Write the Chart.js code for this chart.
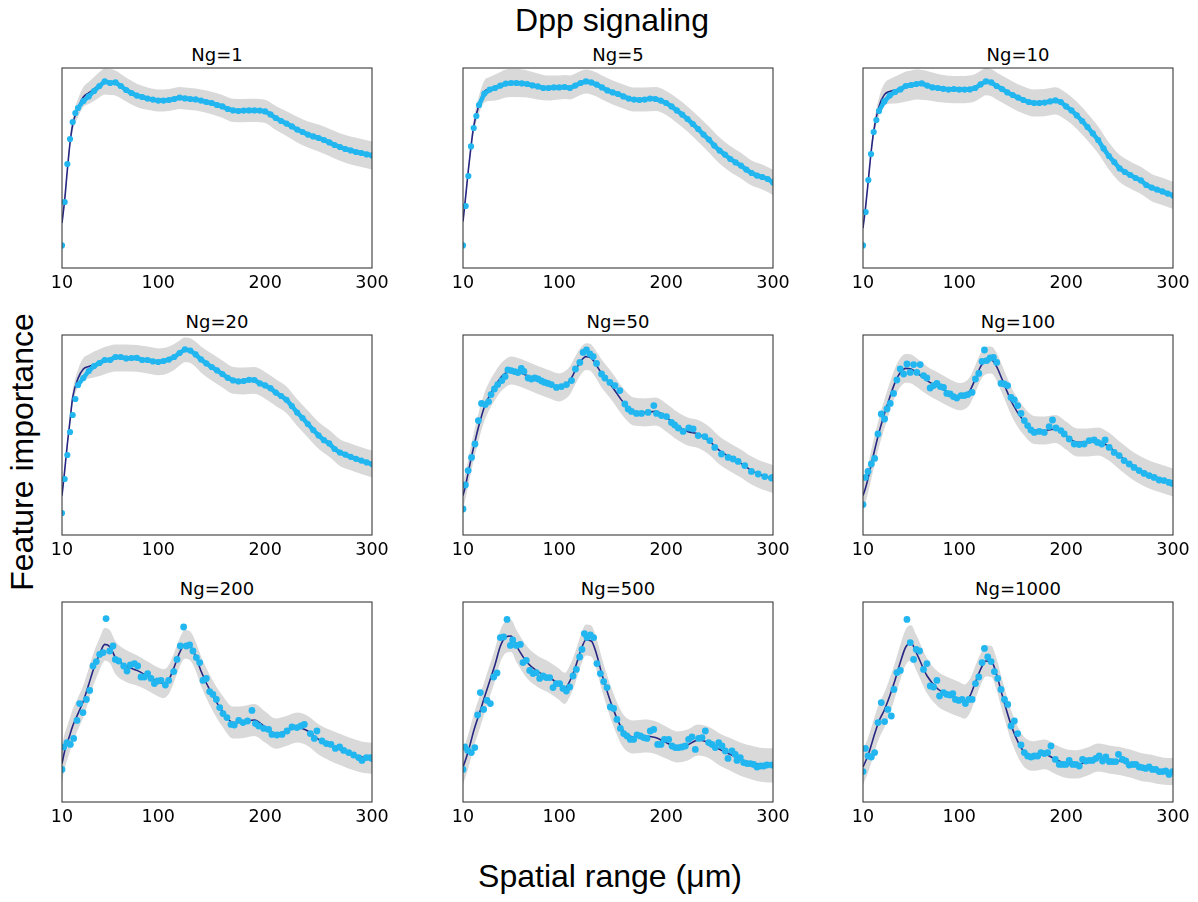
<!DOCTYPE html>
<html>
<head>
<meta charset="utf-8">
<script src="https://cdn.jsdelivr.net/npm/chart.js@4.4.1/dist/chart.umd.min.js"></script>
<style>
  body { margin: 0; background: #fff; overflow: hidden; }
  #fig { position: relative; width: 1198px; height: 902px; }
  #fig canvas { position: absolute; }
  .sub { position: absolute; width: 310px; text-align: center; font-family: "DejaVu Sans"; font-size: 18px; line-height: 18px; color: #000; white-space: nowrap; }
  .big { position: absolute; font-family: "Liberation Sans", Arial, sans-serif; font-size: 32px; line-height: 32px; color: #000; white-space: nowrap; }
</style>
</head>
<body>
<div id="fig">
  <div class="big" id="suptitle" style="left:612px; top:4px; transform:translateX(-50%);">Dpp signaling</div>
  <div class="big" id="xlab" style="left:610px; top:860px; transform:translateX(-50%);">Spatial range (μm)</div>
  <div class="big" id="ylab" style="left:22px; top:452px; transform:translate(-50%,-50%) rotate(-90deg);">Feature importance</div>
</div>
<script>
// x grid of the fitted curves and of the band (µm)
const fitX = [10, 12.5, 15, 17.5, 20, 25, 30, 35, 40, 45, 50, 55, 60, 70, 80, 90, 100, 105, 110, 115, 120, 125, 130, 135, 140, 150, 160, 170, 180, 190, 200, 210, 220, 230, 240, 250, 260, 270, 280, 290, 300];
// x grid of the dots in the dense panels (µm)
const denseX = [10, 12.5, 15, 17.5, 20, 22.5, 25, 30, 35, 40, 45, 50, 55, 60, 65, 70, 75, 80, 85, 90, 95, 100, 105, 110, 115, 120, 125, 130, 135, 140, 145, 150, 155, 160, 165, 170, 175, 180, 185, 190, 195, 200, 205, 210, 215, 220, 225, 230, 235, 240, 245, 250, 255, 260, 265, 270, 275, 280, 285, 290, 295, 300];
const xTicks = [10, 100, 200, 300];
const titles = ["Ng=1", "Ng=5", "Ng=10", "Ng=20", "Ng=50", "Ng=100", "Ng=200", "Ng=500", "Ng=1000"];

// fitted curves (relative importance, 0 = bottom of panel, 100 = top)
const fit1 = [22.5, 34, 49, 62.5, 71.7, 80, 85.5, 87.5, 89.5, 91.7, 93.3, 93, 92.5, 89.2, 86.3, 84.7, 83.8, 83.8, 84, 84.5, 85, 84.8, 84.5, 84.2, 83.7, 82.5, 80.8, 78.8, 78.7, 78.8, 78.3, 75, 72.2, 69.2, 66.7, 65, 62.8, 60.5, 58.8, 57.5, 56.3];
const fit5 = [23.3, 35.8, 49, 60.8, 70.8, 81.7, 88.3, 89.5, 90.3, 91.2, 92.2, 92.5, 92.5, 92, 90.8, 90, 90.3, 90.5, 90.2, 91.2, 92.5, 93.3, 92.8, 91.7, 90.3, 87.8, 85.8, 84.2, 84.2, 84.5, 82.5, 78.8, 74.5, 69.5, 64.2, 58.7, 54.5, 51.2, 47.5, 45.5, 42.8];
const fit10 = [20, 30.8, 44, 57.5, 68.3, 80.8, 86.7, 88.3, 89, 89.8, 90.8, 91.3, 91.7, 91.2, 90, 89.3, 89.2, 89.2, 89.4, 90.2, 91.8, 93.2, 92.7, 91, 89.5, 86.5, 84, 82.5, 82.7, 83.6, 80.8, 76.3, 70.5, 64, 56, 49.8, 46.5, 43.8, 40.2, 38.3, 36.3];
const fit20 = [19.7, 32.2, 45.5, 57.2, 68.8, 78.3, 83, 84.2, 85.2, 86.2, 87.2, 88, 88.5, 88.5, 88.3, 87.5, 86.6, 86.8, 87.7, 89, 91, 92.6, 92.2, 90.3, 87.8, 84, 80.5, 77.3, 77, 77.3, 74.8, 71.2, 67.6, 61.2, 55.5, 49.8, 45.8, 41.2, 39.1, 37.2, 35.5];
const fit50 = [19.7, 25, 31.5, 38, 44, 55, 64, 70, 74.5, 78.5, 81, 82.2, 81.7, 79.7, 77.5, 75.5, 73.8, 74.7, 77.2, 82.2, 86.8, 89.2, 88.5, 84.7, 80.5, 73.8, 66.3, 61.7, 61.3, 61.8, 58.8, 54.7, 51.8, 50.5, 47.2, 42.2, 38.8, 35.8, 32.2, 29.7, 28];
const fit100 = [19.7, 23.8, 28.8, 34.7, 40.5, 51.3, 60.5, 68.8, 76.3, 81.3, 83.3, 83, 81.3, 77.2, 74.2, 71.3, 69.2, 69.7, 72.2, 78, 84.2, 87.2, 87.5, 84.2, 78, 65.5, 57.2, 52.5, 52.2, 53, 49.7, 46.3, 46.3, 46.8, 44.2, 39.7, 35.5, 32.2, 29.7, 28, 26.3];
const fit200 = [19.2, 25.5, 29.7, 33.8, 38, 44.2, 50.5, 58.8, 67.2, 73.8, 78.8, 77.5, 72.2, 68, 65.8, 63, 60, 59.2, 61.3, 67.5, 74.7, 78.8, 78, 73, 65.5, 54.2, 45.5, 39.7, 40, 41, 37.5, 34.2, 35.5, 37.2, 35.5, 31.3, 28.5, 26.3, 24.2, 22.5, 21.8];
const fit500 = [17.5, 21.3, 25.5, 30.5, 35.5, 43.8, 52.2, 60.5, 68.8, 78, 82.5, 83, 78, 69.7, 65.2, 62.5, 58.8, 56.8, 60.5, 67.2, 75.5, 81, 80.5, 73.8, 63.8, 47.2, 35.5, 32.5, 33, 32.2, 29.7, 27.5, 28.5, 31, 29.7, 26.3, 23.8, 21.3, 19.7, 18.5, 18.3];
const fit1000 = [17.5, 20.5, 23.8, 28, 32.5, 40.5, 46, 53, 61, 70, 77.5, 79.5, 74.5, 63, 56.5, 53.5, 51.3, 50.2, 53, 59.7, 66.3, 70.5, 70.3, 63.8, 53.8, 36.3, 25.5, 23, 23.8, 21.3, 19.2, 18.8, 20.2, 22.2, 21.3, 20.5, 19.2, 17.5, 16.7, 15.5, 15.2];

// half width of the grey band, on fitX
const sd1 = [1.5, 2, 2.5, 3, 3.5, 4.5, 5, 5.5, 6, 6.3, 6.5, 6.5, 6.3, 6, 5.8, 5.6, 5.5, 5.5, 5.5, 5.5, 5.5, 5.5, 5.5, 5.5, 5.5, 5.6, 5.7, 5.8, 5.8, 5.8, 5.8, 6, 6.2, 6.4, 6.5, 6.7, 6.8, 6.9, 7, 7, 7];
const sd5 = [1.5, 2, 2.5, 3, 3.5, 4.5, 5.5, 6, 6.5, 6.8, 7, 7, 7, 6.8, 6.5, 6.2, 6, 6, 6, 6, 6, 6, 6, 6, 6, 6, 6, 6, 6, 6, 6, 6.2, 6.3, 6.4, 6.5, 6.5, 6.5, 6.4, 6.3, 6.3, 6.3];
const sd10 = [1.5, 2, 2.5, 3, 3.5, 4.5, 5.5, 6.2, 6.8, 7.2, 7.5, 7.5, 7.5, 7.3, 7, 6.8, 6.8, 6.8, 6.8, 6.8, 6.8, 6.8, 6.8, 6.8, 6.8, 6.8, 6.8, 6.8, 6.8, 6.8, 6.8, 6.8, 6.8, 6.8, 6.8, 6.8, 6.8, 6.8, 6.8, 6.8, 6.8];
const sd20 = [1.5, 2, 2.5, 3, 3.5, 4.5, 5.5, 6, 6.5, 6.7, 6.8, 6.8, 6.8, 6.8, 6.7, 6.7, 6.7, 6.7, 6.6, 6.5, 6.3, 6.2, 6.2, 6.3, 6.5, 6.7, 6.7, 6.7, 6.7, 6.7, 6.7, 6.7, 6.7, 6.7, 6.7, 6.7, 6.7, 6.7, 6.7, 6.7, 6.7];
const sd50 = [6.5, 6.5, 6.6, 6.7, 6.8, 7, 7, 7, 7, 7, 7, 7, 7, 7, 7, 7, 7, 7, 7, 7, 6.8, 6.7, 6.7, 6.8, 7, 7, 7, 7, 7, 7, 7, 7, 7, 7, 7, 7, 7, 7, 7, 7, 7];
const sd100 = [7.2, 7.2, 7.2, 7.2, 7.2, 7.2, 7.2, 7.2, 7.2, 7.2, 7.2, 7.2, 7.2, 7, 7, 6.9, 6.8, 6.8, 6.8, 6.8, 6.8, 6.8, 6.8, 6.9, 7, 7, 7, 7, 7, 7, 7, 7, 7, 7, 7, 7, 7, 7, 7, 7, 7];
const sd200 = [9, 8.8, 8.6, 8.4, 8.2, 8, 8, 8, 8, 8, 8.2, 8.2, 8.2, 8, 7.6, 7.3, 7.2, 7.2, 7.2, 7.2, 7.2, 7.2, 7.2, 7.2, 7.4, 7.6, 7.8, 8, 8, 8, 7.8, 7.6, 7.5, 7.5, 7.5, 7.6, 7.7, 7.8, 7.8, 7.8, 7.8];
const sd500 = [8.7, 8.6, 8.5, 8.4, 8.3, 8.2, 8.1, 8, 8, 8, 8, 8, 8, 8, 7.8, 7.8, 7.8, 7.8, 7.8, 7.8, 7.8, 7.8, 7.8, 7.8, 8, 8.2, 8.3, 8.3, 8.3, 8.2, 8, 7.8, 7.8, 7.8, 7.8, 8, 8.2, 8.3, 8.4, 8.5, 8.6];
const sd1000 = [8.7, 8.7, 8.7, 8.7, 8.7, 8.7, 8.7, 8.8, 8.8, 8.8, 8.9, 8.9, 8.9, 8.8, 8.7, 8.7, 8.7, 8.6, 8.5, 8.3, 8, 7.8, 7.8, 7.8, 7.8, 7.6, 7.5, 7.4, 7.4, 7.3, 7.2, 7.1, 7, 7, 7, 7, 7, 7, 6.9, 6.8, 6.8];

// dots of the dense panels, on denseX
const pts1 = [11.3, 33, 52, 64.5, 73, 77.5, 80, 83.5, 85.8, 88.5, 91, 93.3, 92.5, 92.8, 91, 89, 87.5, 86.2, 85.5, 84.7, 84.2, 83.7, 83.7, 84, 84.5, 85.2, 84.8, 84.5, 84.3, 83.7, 83, 82.5, 81.5, 80.8, 79.5, 78.8, 78.5, 78.7, 78.8, 78.8, 78.7, 78.3, 76.8, 75, 73.5, 72.2, 70.8, 69.2, 68, 66.7, 65.8, 65, 64, 62.8, 61.5, 60.5, 59.5, 58.8, 58, 57.5, 56.8, 56.3];
const pts5 = [11.3, 31, 46, 60.8, 70, 76, 81.5, 87.2, 89.2, 90, 91.2, 92.2, 92.5, 92.5, 92.3, 92, 91.3, 90.8, 90, 90, 90.3, 90.3, 90.5, 90, 91.2, 92.5, 93.3, 92.8, 91.7, 90.3, 88.8, 87.8, 87, 85.8, 84.7, 84.2, 84, 84.2, 84.7, 84.5, 83.7, 82.5, 80.8, 78.8, 76.7, 74.5, 72, 69.5, 66.7, 64.2, 61.2, 58.7, 56.7, 54.5, 52.8, 51.2, 49.2, 47.5, 46.2, 45.5, 44.5, 42.8];
const pts10 = [11.3, 28, 44, 57, 68, 74, 78.5, 83.3, 86.3, 88, 89.3, 91, 91.5, 92, 92.3, 91.2, 90.3, 90, 89.6, 89.2, 89.5, 89.2, 89.2, 89.3, 90, 91.8, 93.3, 92.8, 91, 89.5, 87.8, 86.5, 85.2, 84, 83, 82.5, 82.5, 82.7, 83.3, 83.8, 83, 80.8, 78.8, 76.3, 73.5, 70.5, 67.3, 64, 59.8, 56, 53, 49.8, 48, 46.5, 45, 43.8, 41.5, 40.2, 39.2, 38.3, 37.2, 36.3];
const pts20 = [11, 28, 40, 51.5, 60, 68, 75, 78.5, 82, 84.5, 86, 87.5, 87.5, 89, 89, 88.3, 88.5, 88.6, 87.5, 87.5, 86.8, 86.5, 87, 87.7, 89, 91, 92.8, 92.2, 90.3, 87.8, 85.8, 84, 82.3, 80.5, 78.6, 77.3, 76.8, 77, 77.6, 77.5, 75.8, 74.8, 73.4, 71.2, 69.5, 67.6, 64.5, 61.2, 58.5, 55.5, 52.5, 49.8, 47.4, 45.8, 43, 41.2, 40.2, 39.1, 38.1, 37.2, 36.3, 35.5];

// dots of the noisy panels, [x (µm), value]
const pts50 = [[10, 13], [12.2, 25], [14.8, 32.2], [18, 38.8], [21.2, 45.5], [24.4, 57.2], [27.3, 65.8], [30.8, 65.2], [33.9, 66.7], [36.2, 70.2], [39.4, 73], [42.5, 75.2], [46.3, 77.2], [49.4, 79.2], [52, 82.5], [55.1, 82.2], [58.3, 81.7], [61.4, 81.2], [64.5, 83.3], [67, 81.8], [70.9, 78.5], [74, 78], [77, 78.5], [80.2, 78], [83.5, 77], [86.5, 76.3], [89.5, 75.8], [92.7, 75.2], [97.4, 73.8], [102.1, 74.2], [106.8, 75.2], [111.5, 77.2], [115.2, 83], [119.3, 86.3], [122.4, 91.3], [125.5, 92.5], [128.7, 90.5], [131.8, 89.2], [134.9, 85.8], [139.6, 80.5], [142.7, 78.5], [147.4, 76.3], [152.1, 74.7], [156.7, 72.2], [161.4, 65.5], [164.5, 63], [167.6, 61.8], [172.3, 60.8], [177, 60.8], [183.2, 61.3], [188.5, 64.7], [191, 60.8], [195.7, 59.7], [200.4, 59.2], [205, 56.3], [208, 55], [211.3, 53.5], [215.9, 51.8], [221.2, 53.5], [225.3, 53], [230, 49.7], [236.2, 49.2], [240.9, 47.2], [245.5, 43.8], [251.8, 40.5], [258, 38.8], [262.7, 38], [267.4, 36.8], [273.6, 34.7], [279.8, 31.8], [286.1, 30.5], [292.3, 29.2], [298.5, 28.5], [300, 28.8]];
const pts100 = [[10, 15.2], [12.2, 28.8], [14.7, 31.8], [17.8, 35.5], [20.9, 38.3], [24, 50.5], [27.1, 60.5], [30.2, 58], [32.4, 63], [35.5, 65.8], [38.6, 70.8], [41.7, 77.5], [44.8, 83], [48, 80.5], [51.1, 85.5], [54.2, 81.3], [57.3, 85.2], [60.4, 81.3], [63.5, 85.2], [66.6, 79.7], [69.7, 78.5], [72.8, 73.5], [76, 74.7], [79.1, 75.8], [82.2, 74.2], [85.3, 73.8], [88.4, 70.8], [91.5, 70.5], [94.6, 69.2], [97.7, 68.5], [101.8, 69.7], [104.9, 69.7], [108, 70.2], [112, 71.3], [115.2, 78], [118.3, 80.8], [121.4, 86.8], [123.6, 92.5], [125.8, 87.2], [128.9, 88.5], [132, 88.8], [135.1, 86.3], [139.1, 75.8], [142.2, 75.5], [145.3, 74.7], [148.4, 68.8], [151.5, 67.5], [154.7, 64.7], [157.8, 60.8], [160.9, 57.2], [164, 54.7], [167.1, 52.5], [170.2, 51.3], [174.9, 51.8], [179.6, 51.3], [184.2, 54.2], [187.3, 57.5], [190.5, 53.5], [195.1, 52.2], [198.2, 50.5], [202.9, 48], [207.6, 45.5], [212.2, 45.2], [216.9, 45.5], [221.6, 47.2], [226.2, 47.5], [229.4, 46.3], [233.4, 45.5], [236.5, 47.5], [240.3, 43.8], [245, 41.3], [249.6, 39.7], [254.3, 37.2], [259, 35.5], [263.6, 33.8], [268.3, 32.2], [273, 30.8], [277.6, 29.7], [282.3, 28.8], [287, 27.5], [291.6, 27.2], [296.3, 26.3], [299.4, 25.8]];
const pts200 = [[10, 16.3], [11.6, 27.5], [14.7, 29.7], [17.8, 28.8], [20.9, 31.8], [24, 40.8], [26.5, 49.2], [29.6, 44.7], [32.8, 51.3], [35.9, 55.8], [39, 68], [42.1, 70.2], [45.2, 73.8], [48.4, 74.7], [51.2, 91.7], [54.6, 75.5], [57.7, 78], [59.9, 71.3], [63, 70.5], [67.7, 68], [70.8, 65.5], [73.9, 68.5], [77.7, 69.2], [80.8, 68], [83.9, 62.5], [87, 62.5], [90.1, 64.2], [93.3, 61.8], [96.4, 59.2], [99.5, 60.5], [102.6, 60.8], [106.7, 58.5], [109.8, 60.8], [114.5, 65.2], [117.6, 71.3], [120.7, 78], [123.8, 87.5], [126.3, 78], [129.4, 78.5], [132.5, 75.5], [135.7, 72.2], [138.8, 69.7], [141.9, 60.8], [145, 61.8], [148.1, 55.2], [151.2, 53.8], [154.4, 51.3], [157.5, 47.2], [160.6, 44.2], [164.3, 42.2], [168.1, 38.8], [171.2, 38.5], [175.3, 40.8], [179.3, 39.7], [183.6, 40.5], [187.7, 45.8], [190.9, 39.2], [194, 38], [198.7, 36.8], [203.3, 36.3], [206.4, 33.8], [211.1, 33.5], [215.8, 33.8], [220.5, 35.5], [225.1, 37.5], [229.8, 37.2], [233.6, 38], [236.7, 38.8], [242.3, 34.2], [246, 31.8], [248.5, 35.5], [253.2, 30.5], [257.3, 29.2], [261.6, 28.8], [265.7, 26.8], [269.7, 27.5], [273.5, 25.8], [278.2, 24.7], [282.8, 23.5], [287.5, 22.2], [290.6, 20.8], [294.7, 22.2], [298.4, 22.2], [300, 21.7]];
const pts500 = [[10, 16.3], [11.6, 27.5], [14.4, 25.8], [17.8, 24.7], [21, 27.2], [23.7, 43.5], [26.2, 54.7], [29.3, 46.3], [32.5, 50.8], [35.6, 49.2], [38.7, 62.5], [41.8, 64.5], [44.9, 82.2], [48, 82.5], [51.2, 91.3], [54.3, 78.3], [56.5, 81], [59.9, 78.3], [63.6, 78.8], [66.1, 69.7], [69.2, 70.8], [72.4, 65.8], [75.5, 64.2], [78.6, 64.7], [81.7, 61.8], [84.8, 63], [88, 62.2], [91.1, 62.2], [94.2, 57.2], [97.3, 59.2], [100.4, 59.2], [103.5, 56.8], [106.7, 55.5], [109.8, 57.5], [112.9, 63], [116, 66.3], [119.1, 72.5], [121.3, 76.3], [123.5, 84.2], [126, 82.2], [129.1, 83.5], [132.2, 82.2], [135.3, 69.2], [138.5, 64.2], [141.6, 60.2], [144.7, 57.2], [147.8, 47.5], [150.9, 46.8], [154, 41.3], [157.2, 36.8], [160.3, 34.2], [163.4, 33], [166.5, 31.3], [169.6, 31.3], [172.8, 33.5], [175.9, 33], [179, 32.2], [182.1, 31.8], [185.2, 35.5], [188.4, 36.3], [192.1, 28.8], [195.2, 28.8], [198.3, 31.3], [202.4, 31.3], [205.5, 28], [208.6, 27.2], [211.7, 27.2], [214.9, 27.5], [218, 28], [221.1, 31.3], [224.2, 32.5], [227.3, 26.3], [230.4, 31.8], [233.6, 32.2], [236.7, 35.5], [239.8, 29.7], [242.9, 28.8], [246, 27.2], [249.2, 29.7], [252.3, 28], [255.4, 25.5], [257.9, 21.8], [261.6, 25.5], [264.7, 23.8], [266.3, 20.8], [269.4, 22.2], [272.5, 19.7], [275.7, 19.2], [278.8, 19.2], [281.9, 18.8], [285, 17.5], [288.1, 18], [291.2, 18], [294.3, 18.5], [299, 18.5]];
const pts1000 = [[10, 15.2], [12.2, 26.8], [14.7, 23], [17.8, 22.5], [20.9, 24.7], [24, 39.7], [27.1, 49.7], [30.2, 40.2], [33.3, 46.3], [36.5, 43], [38.9, 56.3], [41.7, 64.7], [44.9, 65.8], [51.1, 91.3], [54.2, 79.7], [57.3, 71.3], [59.8, 76.3], [62.9, 75.5], [66.6, 66.3], [69.8, 69.2], [72.9, 58], [76, 57.5], [79.1, 60.8], [81.6, 53], [85.3, 54.7], [88.4, 53.8], [91.5, 53.5], [94, 54.2], [96.5, 51.3], [99.6, 50.8], [102.7, 51.3], [105.8, 49.2], [109, 51.3], [112.1, 51.3], [115.2, 59.2], [118.3, 62.5], [121.4, 69.7], [123.6, 76.8], [126.7, 72.5], [129.8, 70.2], [132.9, 65.2], [136, 61.8], [139.1, 56.3], [142.3, 51.3], [145.4, 48.8], [148.5, 38], [151.6, 40.5], [154.7, 34.2], [157.8, 28.5], [160.9, 24.7], [164, 23], [167.2, 22.5], [170.3, 23], [173.4, 23], [176.5, 24.7], [179.6, 24.2], [182.7, 24.7], [185.8, 28], [189.9, 21.3], [193.6, 18.8], [196.7, 18.8], [199.8, 18.8], [202.9, 20.8], [206.1, 18.8], [209.2, 18.8], [212.3, 18], [215.4, 21.3], [218.5, 20.5], [221.6, 20.8], [224.7, 20.8], [227.8, 21.8], [231, 23], [234.1, 20.5], [237.2, 22.5], [240.3, 20.2], [243.4, 20.2], [246.5, 20.2], [249, 23.8], [252.7, 21.3], [255.8, 20.5], [259, 18.5], [262.1, 18.8], [265.2, 18.8], [268.3, 17.5], [271.4, 17.2], [274.5, 16.8], [277.6, 17.5], [280.7, 16.3], [283.9, 16.3], [287, 15.2], [290.1, 15.2], [293.2, 15.5], [296.3, 13.8], [299.4, 15.2]];

const dense = (vals) => denseX.map((x, i) => ({ x: x, y: vals[i] }));
const pairs = (arr) => arr.map(p => ({ x: p[0], y: p[1] }));

const panels = [
  { fit: fit1, sd: sd1, pts: dense(pts1), packed: true },
  { fit: fit5, sd: sd5, pts: dense(pts5), packed: true },
  { fit: fit10, sd: sd10, pts: dense(pts10), packed: true },
  { fit: fit20, sd: sd20, pts: dense(pts20), packed: true },
  { fit: fit50, sd: sd50, pts: pairs(pts50), packed: false },
  { fit: fit100, sd: sd100, pts: pairs(pts100), packed: false },
  { fit: fit200, sd: sd200, pts: pairs(pts200), packed: false },
  { fit: fit500, sd: sd500, pts: pairs(pts500), packed: false },
  { fit: fit1000, sd: sd1000, pts: pairs(pts1000), packed: false }
];

const colLeft = [62, 463, 863];
const rowTop = [68, 335, 602];
const PW = 310, PH = 200, PAD = 25;
const CYAN = "#21b6f0";

const frame = {
  id: "frame",
  afterDatasetsDraw(chart) {
    const a = chart.chartArea;
    const ctx = chart.ctx;
    ctx.save();
    ctx.strokeStyle = "#3a3a3a";
    ctx.lineWidth = 1.1;
    ctx.strokeRect(a.left, a.top, a.right - a.left, a.bottom - a.top);
    ctx.restore();
  }
};

const fig = document.getElementById("fig");

panels.forEach((p, k) => {
  const r = Math.floor(k / 3), c = k % 3;
  const L = colLeft[c], T = rowTop[r];

  const t = document.createElement("div");
  t.className = "sub";
  t.style.left = L + "px";
  t.style.top = (T - 22.5) + "px";
  t.textContent = titles[k];
  fig.appendChild(t);

  const cv = document.createElement("canvas");
  cv.width = PW + 2 * PAD;
  cv.height = PH + 5 + 30;
  cv.style.left = (L - PAD) + "px";
  cv.style.top = (T - 5) + "px";
  fig.appendChild(cv);

  const fitPts = fitX.map((x, i) => ({ x: x, y: p.fit[i] }));
  const lower = fitX.map((x, i) => ({ x: x, y: p.fit[i] - p.sd[i] }));
  const upper = fitX.map((x, i) => ({ x: x, y: p.fit[i] + p.sd[i] }));

  new Chart(cv, {
    type: "line",
    data: {
      datasets: [
        {
          // in the dense panels the dots overlap into a solid chain
          data: p.pts,
          showLine: p.packed,
          borderColor: CYAN,
          borderWidth: 4.5,
          segment: { borderColor: (s) => s.p0.parsed.x < 25 ? "rgba(0,0,0,0)" : CYAN },
          pointRadius: p.packed ? 3.1 : 3.4,
          pointBackgroundColor: CYAN,
          pointBorderColor: CYAN,
          pointBorderWidth: 0,
          order: 0,
          clip: 0
        },
        {
          data: fitPts,
          borderColor: "#262683",
          borderWidth: 1.6,
          pointRadius: 0,
          cubicInterpolationMode: "monotone",
          order: 1,
          clip: 0
        },
        {
          data: lower,
          borderColor: "rgba(0,0,0,0)",
          pointRadius: 0,
          cubicInterpolationMode: "monotone",
          fill: false,
          order: 2,
          clip: 0
        },
        {
          data: upper,
          borderColor: "rgba(0,0,0,0)",
          backgroundColor: "#d9d9d9",
          pointRadius: 0,
          cubicInterpolationMode: "monotone",
          fill: "-1",
          order: 3,
          clip: 0
        }
      ]
    },
    options: {
      responsive: false,
      animation: false,
      devicePixelRatio: 1,
      layout: { padding: { left: PAD, right: PAD, top: 5, bottom: 0 } },
      plugins: { legend: { display: false }, tooltip: { enabled: false } },
      scales: {
        x: {
          type: "linear",
          min: 10,
          max: 300,
          afterBuildTicks: (s) => { s.ticks = xTicks.map(v => ({ value: v })); },
          afterFit: (s) => { s.height = 30; },
          grid: { display: false, drawTicks: false },
          border: { display: false },
          ticks: {
            color: "#000",
            font: { family: "DejaVu Sans", size: 17.5 },
            padding: 5,
            maxRotation: 0,
            autoSkip: false
          }
        },
        y: { display: false, min: 0, max: 100 }
      }
    },
    plugins: [frame]
  });
});
</script>
</body>
</html>
